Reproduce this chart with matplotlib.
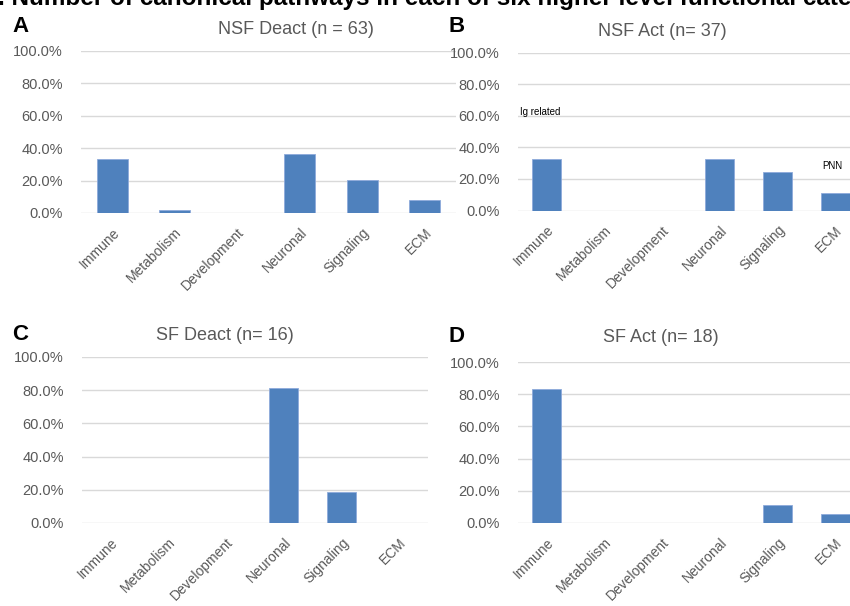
import matplotlib
matplotlib.use("Agg")
import matplotlib.pyplot as plt
from matplotlib.ticker import PercentFormatter

plt.rcParams['font.family'] = ['Liberation Sans', 'DejaVu Sans']

categories = ["Immune", "Metabolism", "Development", "Neuronal", "Signaling", "ECM"]

nsf_deact = [0.333, 0.016, 0.0, 0.365, 0.206, 0.079]
nsf_act = [0.324, 0.0, 0.0, 0.324, 0.243, 0.108]
sf_deact = [0.0, 0.0, 0.0, 0.8125, 0.1875, 0.0]
sf_act = [0.833, 0.0, 0.0, 0.0, 0.111, 0.056]

titles = ["NSF Deact (n = 63)", "NSF Act (n= 37)", "SF Deact (n= 16)", "SF Act (n= 18)"]
letters = ["A", "B", "C", "D"]
yticks = [0.0, 0.2, 0.4, 0.6, 0.8, 1.0]

W, H = 850, 606
fig = plt.figure(figsize=(W / 100, H / 100), dpi=100)

def px_axes(x0, y0, x1, y1):
    return fig.add_axes([x0 / W, 1 - y1 / H, (x1 - x0) / W, (y1 - y0) / H])

BAR = '#4F81BD'
GRID = '#D9D9D9'
TXT = '#595959'

boxes = [(81, 51, 456, 213), (518, 52.5, 864, 210.5), (82, 357, 428, 523), (518, 362, 864, 523)]
data = [nsf_deact, nsf_act, sf_deact, sf_act]
title_pos = [(296, 30), (662, 32), (225, 335), (661, 338)]
letter_pos = [(12, 27), (448, 27), (12, 335), (449, 336)]

axes = []
for box, vals in zip(boxes, data):
    ax = px_axes(*box)
    x = list(range(len(categories)))
    ax.bar(x, vals, width=0.5, color=BAR, edgecolor='#8EAADB', linewidth=0.6, zorder=3)
    ax.set_xlim(-0.5, len(categories) - 0.5)
    ax.set_ylim(0, 1.0)
    ax.set_yticks(yticks)
    ax.yaxis.set_major_formatter(PercentFormatter(1.0, decimals=1))
    ax.grid(axis='y', color=GRID, linewidth=1.0, zorder=0)
    for s in ['top', 'right', 'left', 'bottom']:
        ax.spines[s].set_visible(False)
    ax.tick_params(axis='both', length=0, colors=TXT)
    ax.tick_params(axis='y', pad=13, labelsize=10.5)
    ax.tick_params(axis='x', pad=9, labelsize=10)
    ax.set_xticks(x)
    ax.set_xticklabels(categories, rotation=45, ha='right', rotation_mode='anchor')
    ax.set_facecolor('none')
    axes.append(ax)

for (tx, ty), t in zip(title_pos, titles):
    fig.text(tx / W, 1 - ty / H, t, ha='center', va='center', fontsize=13, color=TXT)
for (lx, ly), l in zip(letter_pos, letters):
    fig.text(lx / W, 1 - ly / H, l, ha='left', va='center', fontsize=16, fontweight='bold', color='black')

# annotations in panel B
fig.text(520 / W, 1 - 112 / H, "Ig related", ha='left', va='center', fontsize=7, color='black')
fig.text(822 / W, 1 - 166 / H, "PNN", ha='left', va='center', fontsize=7, color='black')

# figure heading, partly clipped at the top edge as in the reference
fig.text(-2 / W, 1 - 5 / H, ". Number of canonical pathways in each of six higher level functional categories",
         ha='left', va='baseline', fontsize=17.5, fontweight='bold', color='black')

fig.savefig("out.png", dpi=100)
